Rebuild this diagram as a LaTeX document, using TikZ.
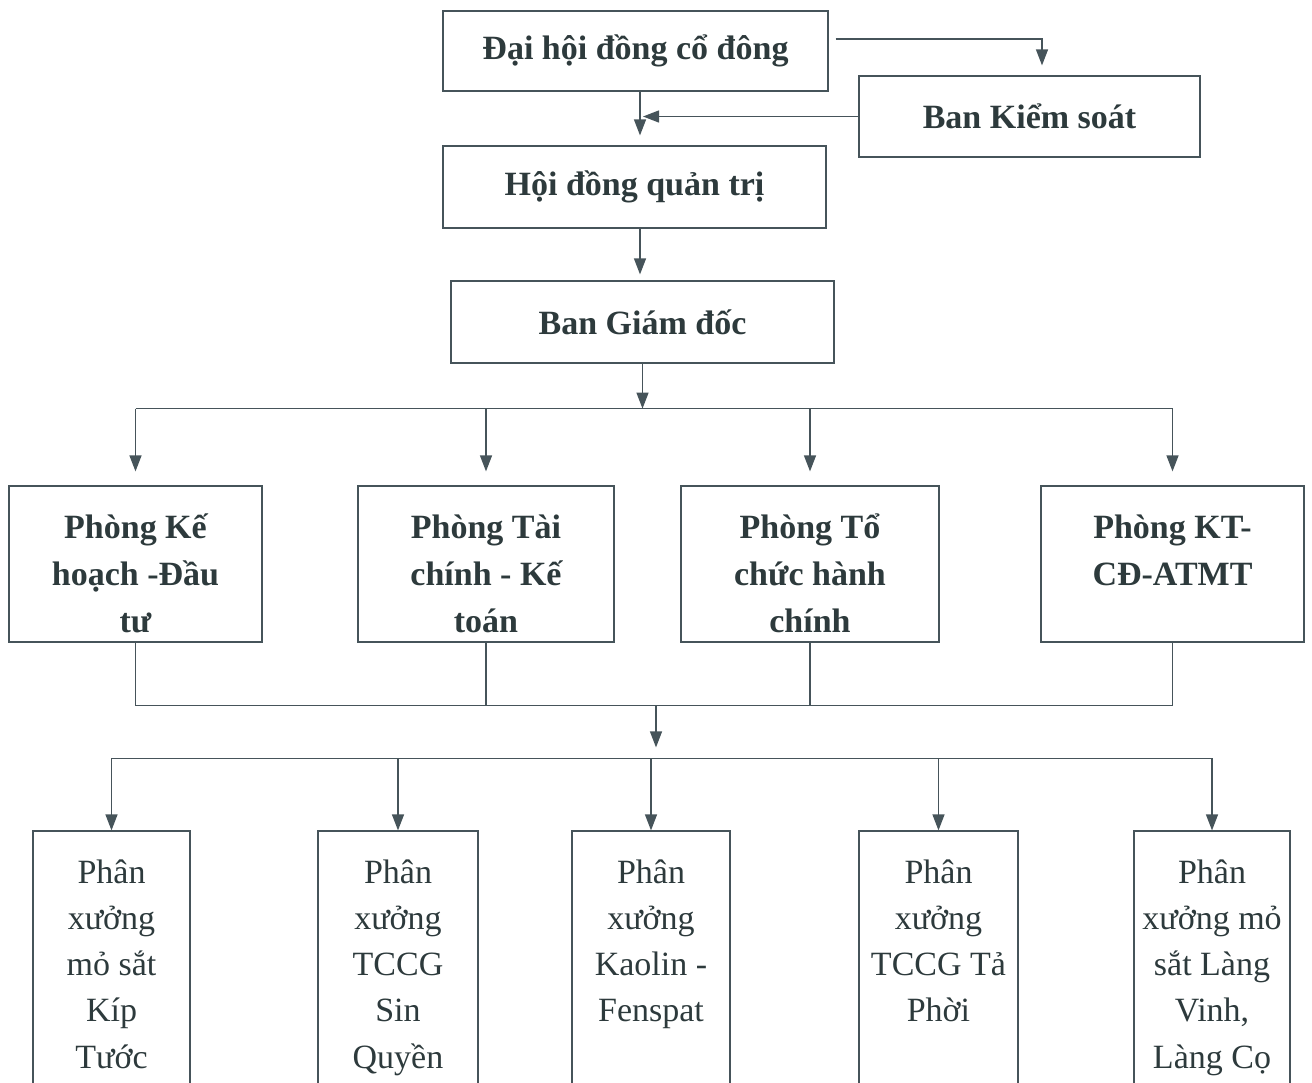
\documentclass[tikz,border=0pt]{standalone}
\usepackage{fontspec}
\setmainfont{Liberation Serif}
\usetikzlibrary{positioning, arrows.meta}
\definecolor{ink}{RGB}{45,58,60}
\definecolor{wire}{RGB}{70,84,90}

\begin{document}
\begin{tikzpicture}[x=1pt, y=-1pt,
		head/.style={draw=wire, line width=1.2pt, text=ink, inner sep=0pt, font=\fontsize{34pt}{47pt}\selectfont\bfseries},
		dept/.style={draw=wire, line width=1.2pt, text=ink, align=flush center, inner sep=0pt, text height=52pt, text depth=104pt, font=\fontsize{34pt}{47pt}\selectfont\bfseries},
		unit/.style={draw=wire, line width=1.2pt, text=ink, align=flush center, inner sep=0pt, text height=52pt, text depth=217pt, font=\fontsize{34pt}{46.3pt}\selectfont},
		link/.style={draw=wire, line width=1.3pt},
		arr/.style={link, -{Triangle[width=12pt,length=16pt]}}]
		\useasboundingbox (0,0) rectangle (1312,1082);
		\clip (0,0) rectangle (1312,1082);

		\node[head, minimum width=385pt, minimum height=80pt] (dhdcd) at (635.5,51) {Đại hội đồng cổ đông};
		\node[head, minimum width=341pt, minimum height=81pt, node distance=394pt, right of=dhdcd, yshift=-65.5pt] (bks) {Ban Kiểm soát};
		\node[head, minimum width=383pt, minimum height=82pt, node distance=136pt, below of=dhdcd, xshift=-1pt] (hdqt) {Hội đồng quản trị};
		\node[head, minimum width=383pt, minimum height=82pt, node distance=135pt, below of=hdqt, xshift=8pt] (bgd) {Ban Giám đốc};

		\node[dept, text width=253pt, node distance=242pt, below of=bgd, xshift=-507pt] (khdt) {Phòng Kế\\hoạch -Đầu\\tư};
		\node[dept, text width=256pt, node distance=350.5pt, right of=khdt] (tckt) {Phòng Tài\\chính - Kế\\toán};
		\node[dept, text width=258pt, node distance=324pt, right of=tckt] (tchc) {Phòng Tổ\\chức hành\\chính};
		\node[dept, text width=263pt, node distance=362.5pt, right of=tchc] (ktcd) {Phòng KT-\\CĐ-ATMT};

		\node[unit, text width=157pt, node distance=401.5pt, below of=khdt, xshift=-24pt] (px1) {Phân\\xưởng\\mỏ sắt\\Kíp\\Tước};
		\node[unit, text width=160pt, node distance=286.5pt, right of=px1] (px2) {Phân\\xưởng\\TCCG\\Sin\\Quyền};
		\node[unit, text width=158pt, node distance=253pt, right of=px2] (px3) {Phân\\xưởng\\Kaolin -\\Fenspat};
		\node[unit, text width=159pt, node distance=287.5pt, right of=px3] (px4) {Phân\\xưởng\\TCCG Tả\\Phời};
		\node[unit, text width=156pt, node distance=273.5pt, right of=px4] (px5) {Phân\\xưởng mỏ\\sắt Làng\\Vinh,\\Làng Cọ};

		\coordinate (bus1) at ([yshift=-45pt]bgd.south);
		\coordinate (bus2) at ([yshift=-63pt]khdt.south);
		\coordinate (bus3) at ([yshift=72pt]px3.north);

		\draw[arr] ([xshift=7pt,yshift=12pt]dhdcd.east) -| ([xshift=12.5pt,yshift=10pt]bks.north);
		\draw[arr] ([xshift=4.5pt]dhdcd.south) -- ([xshift=5.5pt,yshift=10pt]hdqt.north);
		\draw[arr] (bks.west) -- ([xshift=8.5pt]bks.west -| hdqt.north);
		\draw[arr] ([xshift=5.5pt]hdqt.south) -- ([xshift=-2.5pt,yshift=6pt]bgd.north);
		\draw[arr] (bgd.south) -- (bus1);

		\draw[link] (bus1 -| khdt.north) -- (bus1 -| ktcd.north);
		\foreach \d in {khdt,tckt,tchc,ktcd}
			\draw[arr] (bus1 -| \d.north) -- ([yshift=14pt]\d.north);
		\foreach \d in {khdt,tckt,tchc,ktcd}
			\draw[link] (\d.south) -- (bus2 -| \d.south);
		\draw[link] (bus2 -| khdt.south) -- (bus2 -| ktcd.south);

		\draw[arr] ([xshift=5pt]bus2 -| px3.north) -- ([xshift=5pt,yshift=11pt]bus3);
		\draw[link] (bus3 -| px1.north) -- (bus3 -| px5.north);
		\foreach \p in {1,...,5}
			\draw[arr] (bus3 -| px\p.north) -- (px\p.north);
	\end{tikzpicture}
\end{document}
